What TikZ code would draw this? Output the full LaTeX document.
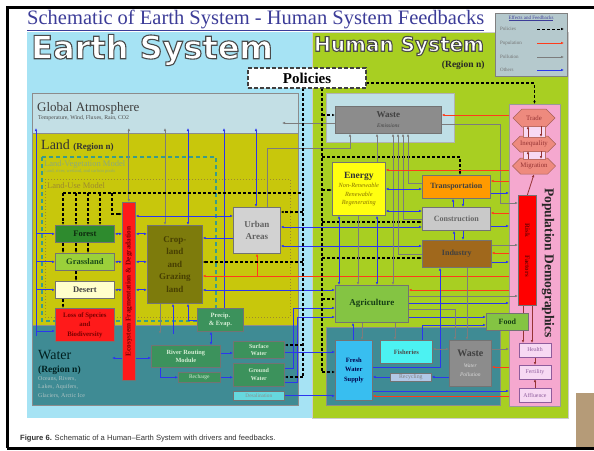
\documentclass[tikz,border=0pt]{standalone}
\usepackage{fontspec}
\setmainfont{Liberation Serif}
\setsansfont{Liberation Sans}
\newfontfamily\roundfont{DejaVu Sans}
\usetikzlibrary{arrows.meta}
\usetikzlibrary{calc}
\usetikzlibrary{shapes.symbols}

\definecolor{skyblue}{HTML}{A6E3F4}
\definecolor{humangreen}{HTML}{A8CF22}
\definecolor{atmosblue}{HTML}{C3DFE5}
\definecolor{landyellow}{HTML}{C8C70C}
\definecolor{waterteal}{HTML}{3F8B94}
\definecolor{wasteblue}{HTML}{BFDFE6}
\definecolor{edgegray}{HTML}{4A4A4A}
\definecolor{titleblue}{HTML}{3C3C98}
\definecolor{forestc}{HTML}{2E8B2E}
\definecolor{grassc}{HTML}{9BD03A}
\definecolor{desertc}{HTML}{FFFFCC}
\definecolor{lossred}{HTML}{FF1A1A}
\definecolor{darkred}{HTML}{7A0000}
\definecolor{cropc}{HTML}{7D7B0C}
\definecolor{croptext}{HTML}{473F02}
\definecolor{urbanc}{HTML}{D2D2D2}
\definecolor{seagreen}{HTML}{3C925C}
\definecolor{paletext}{HTML}{D5EED5}
\definecolor{desalc}{HTML}{66D8DE}
\definecolor{wastegray}{HTML}{8C8C8C}
\definecolor{energyc}{HTML}{FFFF10}
\definecolor{energyit}{HTML}{8A7400}
\definecolor{transc}{HTML}{FF9A00}
\definecolor{constc}{HTML}{C9C9C9}
\definecolor{indc}{HTML}{A0681C}
\definecolor{agric}{HTML}{84C443}
\definecolor{freshc}{HTML}{38BEF0}
\definecolor{fishc}{HTML}{4CF2F2}
\definecolor{recyc}{HTML}{B2C8E6}
\definecolor{popink}{HTML}{F5A8CF}
\definecolor{salmon}{HTML}{EE8A7E}
\definecolor{healthc}{HTML}{F7D9F3}
\definecolor{healthtext}{HTML}{8E5C9C}
\definecolor{legendc}{HTML}{B5C9CD}
\definecolor{othblue}{HTML}{2B36EE}
\definecolor{popred}{HTML}{FF3B1A}
\definecolor{pollgray}{HTML}{7C7C7C}
\definecolor{vegdash}{HTML}{3A9C8A}
\definecolor{vegtext}{HTML}{8CAA7A}
\definecolor{usedot}{HTML}{9C8A2E}
\definecolor{framebrown}{HTML}{B59B78}

\newcommand\fsz[1]{\fontsize{#1}{#1}\selectfont}
\newcommand\subit[1]{{\mdseries\itshape\fontsize{5.5}{6}\selectfont #1}}
\newcommand\enit[1]{{\color{energyit}\mdseries\itshape\fontsize{6.3}{7}\selectfont #1}}
% white letters with a grey rim
\newcommand\hollow[1]{\special{pdf:literal direct 2 Tr 1.1 w 0.29 0.29 0.29 RG}#1\special{pdf:literal direct 0 Tr}}

\pgfdeclarelayer{back}
\pgfdeclarelayer{wires}
\pgfsetlayers{back,wires,main}

\begin{document}
\begin{tikzpicture}[x=1pt, y=-1pt, >={Latex[length=3pt, width=2.6pt]},
    region/.style={anchor=north west, inner sep=0pt, outer sep=0pt},
    boxsize/.style 2 args={minimum width=#1, minimum height=#2},
    unit/.style={draw=black!55, line width=0.7pt, anchor=north west, inner sep=0.5pt,
        align=center, font=\bfseries\fsz{8}},
    headline/.style={text=white, font=\roundfont\bfseries\fsz{#1}, inner sep=0pt},
    oth/.style={draw=othblue, line width=0.9pt},
    popl/.style={draw=popred, line width=0.9pt},
    poll/.style={draw=pollgray, line width=0.9pt},
    pol/.style={draw=black, line width=1.2pt, dash pattern=on 3pt off 2pt},
    deep/.style={draw=darkred!80, line width=0.8pt},
    ]

    \useasboundingbox (0,0) rectangle (594,450);

    % regions
    \begin{pgfonlayer}{back}
        \fill[white] (0,0) rectangle (594,450);
        \node[region, fill=skyblue, boxsize={285}{386}] (earth) at (27,32) {};
        \node[region, fill=humangreen, draw=black!20, boxsize={256}{386}] (human) at (312,32) {};
        \node[region, fill=atmosblue, draw=black!45, boxsize={266}{40}] (atmos) at (32,93) {};
        \node[region, fill=landyellow, draw=black!45, boxsize={266}{192}] (land) at (32,133) {};
        \node[region, fill=waterteal, draw=black!45, boxsize={266}{80}] (water) at (32,325) {};
        \draw[vegdash, line width=1.1pt, dash pattern=on 4pt off 3pt] (42,157) rectangle (216,321);
        \draw[usedot, line width=1pt, dotted] (45,179) rectangle (290,317);
        \node[region, fill=wasteblue, draw=black!30, boxsize={128}{49}] (wastereg) at (326,93) {};
        \node[region, fill=waterteal, draw=black!45, boxsize={174}{78}] (hwater) at (326,327) {};
        \node[region, fill=popink, draw=black!40, line width=0.7pt, boxsize={51}{302}] (pop) at (509,104) {};
    \end{pgfonlayer}
    \fill[framebrown] (576,393) rectangle (594,447);
    \draw[line width=3pt] (7,448) -- (7,7) -- (594,7);
    \draw[line width=3pt] (7,448) -- (594,448);

    % headings
    \node[anchor=base west, text=titleblue, font=\fsz{20.5}, inner sep=0pt] (title) at (27,24.5)
        {\underline{Schematic of Earth System - Human System Feedbacks}};
    \node[headline=32] (earthttl) at (152,50) {\hollow{Earth System}};
    \node[headline=20] (humanttl) at (399,46) {\hollow{Human System}};
    \node[anchor=east, font=\bfseries\fsz{9.5}, text=black!85] (hreg) at (488,65) {(Region n)};
    \node[region, draw=black!75, fill=white, line width=1.2pt, dash pattern=on 4pt off 2pt,
        boxsize={118}{20}, font=\bfseries\fsz{15}] (policies) at (248,68) {Policies};

    % legend
    \node[region, fill=legendc, draw=gray, line width=0.6pt, boxsize={72}{63}] (legend) at (495,13) {};
    \node[font=\fsz{5}, text=titleblue, inner sep=0pt] (lgtitle) at (531,18.5) {\underline{Effects and Feedbacks}};
    \foreach \nm/\txt/\yy in {lgpol/Policies/29, lgpop/Population/43, lgpoll/Pollution/57, lgoth/Others/70}
        \node[anchor=west, font=\fsz{5}, text=black!55, inner sep=0pt] (\nm) at (500,\yy) {\txt};
    \draw[pol, line width=1pt, ->] (lgpol.east -| 537,0) -- (lgpol.east -| 564,0);
    \draw[popl, ->] (lgpop.east -| 537,0) -- (lgpop.east -| 564,0);
    \draw[poll, ->] (lgpoll.east -| 537,0) -- (lgpoll.east -| 564,0);
    \draw[oth, ->] (lgoth.east -| 537,0) -- (lgoth.east -| 564,0);

    % earth side labels
    \node[anchor=base west, font=\fsz{13}, text=black!75, inner sep=0pt] (atmottl) at (37,111) {Global Atmosphere};
    \node[anchor=base west, font=\fsz{5.8}, text=black!70, inner sep=0pt] (atmosub) at (38,119.5)
        {Temperature, Wind, Fluxes, Rain, CO2};
    \node[anchor=base west, font=\fsz{14}, text=black!80, inner sep=0pt] (landttl) at (41,149)
        {Land {\bfseries\fsz{9}(Region n)}};
    \node[anchor=base west, font=\fsz{8.5}, text=vegtext, inner sep=0pt] (vegttl) at (44,166) {Land-Vegetation Model};
    \node[anchor=base west, font=\fsz{4.6}, text=vegtext, inner sep=0pt] (vegsub) at (44,172.5)
        {Land, river, wetland, and carbon pools};
    \node[anchor=base west, font=\fsz{8.5}, text=usedot, inner sep=0pt] (usettl) at (47,188) {Land-Use Model};
    \node[anchor=base west, font=\fsz{14}, text=black!75!teal, inner sep=0pt] (waterttl) at (38,359) {Water};
    \node[anchor=base west, font=\bfseries\fsz{9.5}, text=black!75!teal, inner sep=0pt] (wreg) at (38,372) {(Region n)};
    \node[anchor=north west, font=\fontsize{6}{8.5}\selectfont, text=teal!25!white!70!gray, align=left, inner sep=0pt]
        (wsub) at (38,376) {Oceans, Rivers,\\Lakes, Aquifers,\\Glaciers, Arctic Ice};

    % land units
    \node[unit, fill=forestc, boxsize={59}{17}, text=forestc!30!black, font=\bfseries\fsz{8.5}] (forest) at (55,225) {Forest};
    \node[unit, fill=grassc, boxsize={59}{17}, text=forestc!55!black, font=\bfseries\fsz{8.5}] (grass) at (55,253) {Grassland};
    \node[unit, fill=desertc, boxsize={59}{17}, text=black!75, font=\bfseries\fsz{8.5}] (desert) at (55,281) {Desert};
    \node[unit, fill=lossred, boxsize={59}{33}, text=darkred, font=\bfseries\fontsize{6.8}{9.5}\selectfont] (loss) at (55,308)
        {Loss of Species\\and\\Biodiversity};
    \node[unit, fill=lossred, boxsize={13}{178}] (ecofrag) at (122,202) {};
    \node[rotate=90, font=\bfseries\fsz{7.3}, text=darkred] (ecotxt) at (ecofrag.center)
        {Ecosystem Fragmentation \& Degradation};
    \node[unit, fill=cropc, boxsize={55}{78}, text=croptext, font=\bfseries\fontsize{9}{12.5}\selectfont] (crop) at (147,225)
        {Crop-\\land\\and\\Grazing\\land};
    \node[unit, fill=urbanc, boxsize={47}{46}, text=black!62, font=\bfseries\fontsize{9}{12.5}\selectfont] (urban) at (233,207)
        {Urban\\Areas};
    \node[unit, fill=seagreen, boxsize={46}{23}, text=paletext, font=\bfseries\fontsize{6.5}{8.5}\selectfont] (precip) at (197,308)
        {Precip.\\\& Evap.};
    \node[unit, fill=seagreen, boxsize={69}{22}, text=paletext, font=\bfseries\fontsize{6.3}{8.5}\selectfont] (river) at (151,345)
        {River Routing\\Module};
    \node[unit, fill=seagreen, boxsize={42}{10}, text=paletext, font=\fsz{5.5}] (recharge) at (178,372) {Recharge};
    \node[unit, fill=seagreen, boxsize={51}{17}, text=paletext, font=\bfseries\fontsize{6}{7.5}\selectfont] (surface) at (233,341)
        {Surface\\Water};
    \node[unit, fill=seagreen, boxsize={51}{23}, text=paletext, font=\bfseries\fontsize{6}{8}\selectfont] (ground) at (233,363)
        {Ground\\Water};
    \node[unit, fill=desalc, boxsize={51}{9}, text=black!45, font=\fsz{5.3}] (desal) at (233,391) {Desalination};

    % human units
    \node[unit, fill=wastegray, boxsize={106}{27}, text=black!75, font=\bfseries\fontsize{9}{9}\selectfont] (waste) at (335,106)
        {Waste\\[1pt]\subit{Emissions}};
    \node[unit, fill=energyc, boxsize={53}{53}, text=black!80, font=\bfseries\fontsize{9.5}{10.5}\selectfont] (energy) at (332,162)
        {Energy\\[-1pt]\enit{Non-Renewable}\\[-2pt]\enit{Renewable}\\[-2pt]\enit{Regenerating}};
    \node[unit, fill=transc, boxsize={68}{23}, text=black!75] (transport) at (422,175) {Transportation};
    \node[unit, fill=constc, boxsize={68}{23}, text=black!60] (construct) at (422,207) {Construction};
    \node[unit, fill=indc, boxsize={69}{27}, text=black!75] (industry) at (422,240) {Industry};
    \node[unit, fill=agric, boxsize={73}{37}, text=forestc!45!black, font=\bfseries\fsz{9}] (agri) at (335,285) {Agriculture};
    \node[unit, fill=agric, boxsize={42}{17}, text=forestc!45!black] (food) at (486,313) {Food};
    \node[unit, fill=freshc, boxsize={37}{60}, text=blue!30!black, font=\bfseries\fontsize{6.5}{9.5}\selectfont] (fresh) at (335,340)
        {Fresh\\Water\\Supply};
    \node[unit, fill=fishc, boxsize={52}{23}, text=black!70, font=\bfseries\fsz{6.5}] (fish) at (380,340) {Fisheries};
    \node[unit, fill=recyc, boxsize={41}{8}, text=black!50, font=\fsz{5.8}] (recycle) at (390,373) {Recycling};
    \node[unit, fill=wastegray, boxsize={42}{46}, text=black!75, font=\bfseries\fontsize{10}{10}\selectfont] (wastew) at (449,340)
        {Waste\\[1pt]{\color{black!15}\subit{Water}}\\[-1pt]{\color{black!15}\subit{Pollution}}};

    % population demographics
    \node[rotate=-90, font=\bfseries\fsz{13.5}, text=black!85] (popttl) at (548,263) {Population Demographics};
    \foreach \nm/\txt/\yy/\hh in {trade/Trade/118/18, inequal/Inequality/144/16, migr/Migration/166/16}
        \node[signal, signal to=west and east, fill=salmon, draw=salmon!70!black, line width=0.5pt,
            boxsize={42}{\hh}, inner sep=0pt, text=darkred!80, font=\fsz{6.8}] (\nm) at (534,\yy) {\txt};
    \foreach \nm/\yy/\hh in {tilink/126/11, imlink/151/8}
        \node[region, fill=healthc, draw=salmon!80!black, line width=0.5pt, boxsize={22}{\hh}] (\nm) at (523,\yy) {};
    \node[unit, fill=red, boxsize={18}{110}] (risk) at (518,195) {};
    \node[rotate=-90, font=\bfseries\fsz{6.8}, text=darkred] (risktxt) at (risk.center) {Risk\hspace{18pt}Factors};
    \foreach \nm/\txt/\yy in {health/Health/343, fert/Fertility/365, afflu/Affluence/388}
        \node[region, fill=healthc, draw=healthtext, line width=0.7pt, boxsize={32}{14}, text=healthtext,
            font=\fsz{5.8}] (\nm) at (519,\yy) {\txt};

    \begin{pgfonlayer}{wires}
        % exchanges with the atmosphere
        \coordinate (atm) at (0,128);
        \coordinate (atmin) at (282,123);
        \coordinate (wtop) at (36,336);
        \draw[oth, ->] (wtop) -- (atm -| wtop);
        \draw[oth, ->] (wtop |- 0,331) -- (loss.west |- 0,331);
        \foreach \b in {forest,grass,desert}{
            \draw[oth, ->] (\b.west -| wtop) -- (\b.west);
            \draw[oth, <->] (\b.east) -- (\b.east -| ecofrag.west);
            \draw[oth, <->] (\b.east -| ecofrag.east) -- (\b.east -| crop.west);
        }
        \draw[poll, <->] (ecofrag.north) -- (ecofrag.north |- atm);
        \draw[poll, <->] (crop.north -| 165,0) -- (atm -| 165,0);
        \draw[oth, <->] (crop.north -| 188,0) -- (atm -| 188,0);
        \draw[oth, ->] (precip.north -| 224,0) -- (atm -| 224,0);
        \draw[oth, <->] (urban.north -| 256,0) -- (atm -| 256,0);
        \draw[poll, ->] (urban.north -| 267,0) -- (267,148) -- (350,148) -- (waste.south -| 350,0);
        \draw[poll, ->] (waste.west |- atmin) -- (atmin);

        % land and water
        \draw[oth, <->] (ecofrag.east |- 0,216) -- (urban.west |- 0,216);
        \draw[oth, ->] (urban.west |- 0,238) -- (crop.east |- 0,238);
        \draw[popl, ->] (pop.west |- 0,276) -- (crop.east |- 0,276);
        \draw[popl, ->] (257,276) -- (urban.south -| 257,0);
        \draw[oth, <->] (crop.east |- 0,290) -- (agri.west |- 0,290);
        \draw[oth, <->] (urban.east |- 0,227) -- (construct.west |- 0,227);
        \draw[oth, <->] (urban.east |- 0,246) -- (industry.west |- 0,246);
        \draw[oth, ->] (surface.east |- 0,352) -- (fresh.west |- 0,352);
        \draw[oth, ->] (ground.east |- 0,368) -- (293,368) |- (agri.west |- 0,308);
        \draw[oth, ->] (ground.east |- 0,382) -- (297,382) |- (agri.west |- 0,317);
        \draw[oth, ->] (desal.east) -- (desal.east -| fresh.west);
        \draw[oth, <->] (precip.south -| 211,0) -- (river.north -| 211,0);
        \draw[oth, ->] (river.east |- 0,353) -- (surface.west |- 0,353);
        \draw[oth, ->] (river.south -| 160,0) |- (recharge.west);
        \draw[oth, ->] (recharge.east) -- (recharge.east -| ground.west);
        \draw[oth, <->] (112,358) -- (river.west |- 0,358);
        \draw[poll, ->] (crop.south -| 160,0) -- (160,334);
        \draw[oth, <-] (crop.south -| 173,0) -- (173,334);
        \draw[oth, ->] (precip.west |- 0,320) -| (crop.south -| 188,0);

        % policies
        \coordinate (etrunk) at (303,88);
        \coordinate (htrunk) at (322,88);
        \draw[pol] (policies.south -| etrunk) -- (etrunk |- 0,377);
        \draw[pol] (policies.south -| htrunk) -- (htrunk |- 0,372);
        \draw[pol, ->] ($(policies.south east)+(0,-5)$) -| (pop.north);
        \draw[pol] (63,193) -- (etrunk |- 0,193);
        \foreach \x in {63,76,88,100}
            \draw[pol, ->] (\x,193) -- (forest.north -| \x,0);
        \draw[pol, ->] (112,193) |- (ecofrag.west |- 0,214);
        \foreach \x in {63,76,88}
            \draw[pol, ->] (forest.south -| \x,0) -- (grass.north -| \x,0);
        \draw[pol, ->] (grass.south -| 76,0) -- (desert.north -| 76,0);
        \draw[pol, ->] (desert.south -| 63,0) -- (loss.north -| 63,0);
        \draw[pol, ->] (etrunk |- 0,212) -- (urban.east |- 0,212);
        \draw[pol, ->] (etrunk |- 0,262) -- (crop.east |- 0,262);
        \draw[pol, ->] (etrunk |- 0,345) -- (surface.east |- 0,345);
        \draw[pol, ->] (etrunk |- 0,377) -- (ground.east |- 0,377);
        \foreach \b/\yy in {waste/115, energy/190, construct/222, industry/258, agri/299, fresh/372}
            \draw[pol, ->] (htrunk |- 0,\yy) -- (\b.west |- 0,\yy);
        \draw[pol, ->] (htrunk |- 0,157) -| (transport.north -| 460,0);

        % sectors and emissions
        \draw[poll, ->] (energy.north -| 377,0) -- (waste.south -| 377,0);
        \draw[poll, ->] (transport.west |- 0,183) -| (waste.south -| 408,0);
        \draw[poll, ->] (construct.west |- 0,219) -| (waste.south -| 403,0);
        \draw[poll, ->] (industry.west |- 0,254) -| (waste.south -| 398,0);
        \draw[poll, <->] (agri.north -| 393,0) -- (waste.south -| 393,0);
        \draw[oth, <->] (energy.south -| 339,0) -- (agri.north -| 339,0);
        \draw[poll, ->] (energy.south -| 358,0) -- (agri.north -| 358,0);
        \draw[oth, <->] (energy.south -| 377,0) -- (agri.north -| 377,0);
        \draw[oth, <->] (energy.east |- 0,189) -- (transport.west |- 0,189);
        \draw[oth, <->] (energy.east |- 0,211) -- (construct.west |- 0,211);
        \draw[oth, ->] (construct.north -| 453,0) -- (transport.south -| 453,0);
        \draw[oth, ->] (transport.south -| 463,0) -- (construct.north -| 463,0);
        \draw[oth, ->] (industry.north -| 454,0) -- (construct.south -| 454,0);
        \draw[oth, ->] (construct.south -| 463,0) -- (industry.north -| 463,0);

        % population links
        \draw[popl, ->] (pop.west |- 0,115) -- (waste.east |- 0,115);
        \draw[poll, ->] (waste.east |- 0,124) -- (500,124) |- (risk.west |- 0,203);
        \draw[popl, ->] (pop.west |- 0,170) -- (energy.east |- 0,170);
        \draw[popl, ->] (pop.west |- 0,181) -- (transport.east |- 0,181);
        \draw[oth, ->] (transport.east |- 0,193) -- (pop.west |- 0,193);
        \draw[popl, ->] (pop.west |- 0,213) -- (construct.east |- 0,213);
        \draw[oth, ->] (construct.east |- 0,226) -- (pop.west |- 0,226);
        \draw[poll, ->] (industry.east |- 0,245) -- (risk.west |- 0,245);
        \draw[popl, ->] (pop.west |- 0,253) -- (industry.east |- 0,253);
        \draw[oth, ->] (industry.east |- 0,262) -- (pop.west |- 0,262);
        \draw[popl, ->] (pop.west |- 0,290) -- (agri.east |- 0,290);
        \draw[poll, ->] (agri.east |- 0,296) -- (risk.west |- 0,296);
        \draw[oth, ->] (agri.east |- 0,303) -- (pop.west |- 0,303);

        % food and water use
        \draw[oth, ->] (agri.east |- 0,317) -- (food.west |- 0,317);
        \draw[oth, ->] (fish.north -| 422,0) |- (food.west |- 0,325);
        \draw[poll, ->] (agri.east |- 0,309) -| (wastew.north -| 455,0);
        \draw[poll, ->] (industry.south -| 467,0) -- (wastew.north -| 467,0);
        \draw[oth, ->] (fresh.north -| 353,0) -- (agri.south -| 353,0);
        \draw[poll, ->] (agri.south -| 362,0) -- (fresh.north -| 362,0);
        \draw[poll, ->] (agri.south -| 395,0) -- (fish.north -| 395,0);
        \draw[oth, ->] (fresh.east |- 0,367) -| (industry.south -| 440,0);
        \draw[poll, <->] (fish.east |- 0,349) -- (wastew.west |- 0,349);
        \draw[poll, ->] (wastew.east |- 0,349) -- (pop.west |- 0,349);
        \draw[popl, ->] (pop.west |- 0,367) -- (wastew.east |- 0,367);
        \draw[oth, ->] (wastew.west |- 0,377) -- (recycle.east |- 0,377);
        \draw[oth, ->] (recycle.west |- 0,377) -- (fresh.east |- 0,377);
        \draw[oth, ->] (fresh.east |- 0,391) -- (pop.west |- 0,391);
        \draw[popl, ->] (pop.west |- 0,396) -- (fresh.east |- 0,396);

        % inside population demographics
        \draw[deep, ->] (risk.south -| 523,0) -- (health.north -| 523,0);
        \draw[deep, ->] (risk.south -| 532,0) -- (health.north -| 532,0);
        \draw[deep, ->] (risk.north) -- (migr.south);
        \draw[deep, ->] (health.south) -- (fert.north);
        \draw[deep, ->] (afflu.north) -- (fert.south);
    \end{pgfonlayer}
    \draw[deep, ->] (tilink.south -| 528,0) -- (tilink.north -| 528,0);
    \draw[deep, ->] (tilink.north -| 541,0) -- (tilink.south -| 541,0);
    \draw[deep, ->] (imlink.south -| 528,0) -- (imlink.north -| 528,0);
    \draw[deep, ->] (imlink.north -| 541,0) -- (imlink.south -| 541,0);

    % caption
    \node[anchor=base west, font=\sffamily\fsz{7.6}, text=black!80, inner sep=0pt] (caption) at (20,440)
        {\textbf{Figure 6.} Schematic of a Human–Earth System with drivers and feedbacks.};
\end{tikzpicture}
\end{document}
